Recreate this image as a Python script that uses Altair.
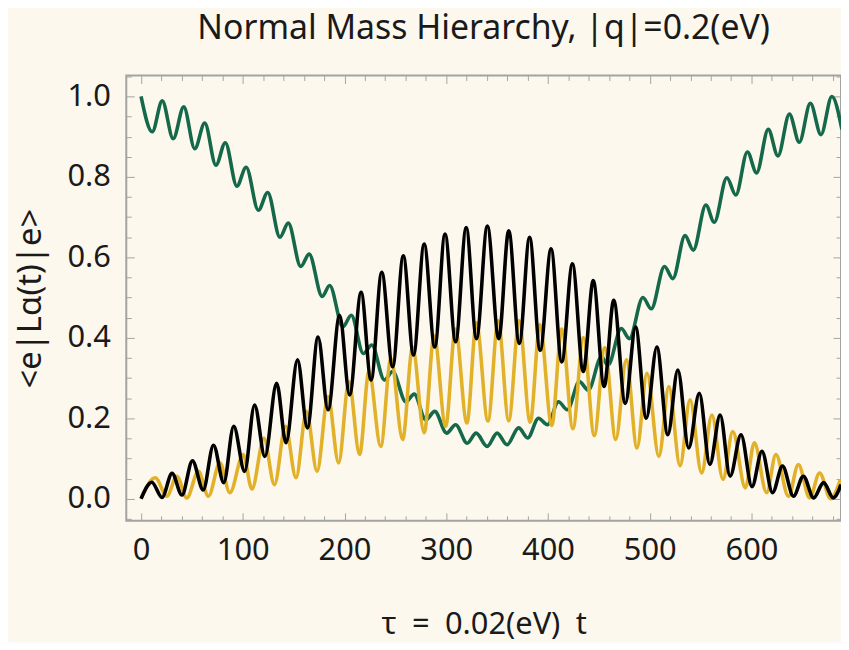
import altair as alt
import pandas as pd

# ---------------- data ----------------
green_t = [0, 11, 20.8, 31.6, 42, 52.8, 62.6, 73.6, 82.8, 94.2, 103.3, 115.3, 124.5, 136.5,
           144.7, 157, 165.2, 178, 185.4, 198.4, 206.6, 218.5, 226.8, 239.2, 247.3, 260.3,
           268.5, 279.9, 288.7, 300.4, 309.2, 320.6, 329.4, 340.2, 350, 359.7, 371.2, 380,
           390.7, 399.5, 410.3, 419, 430.8, 439.6, 452.6, 459, 472, 480, 493.3, 501.5, 514.5,
           522.7, 534.7, 542.8, 555.2, 563.4, 575.8, 584.6, 596, 605, 616.5, 626, 637.3, 647,
           657.9, 668.3, 679, 688.9]
green_v = [1.0, 0.912, 0.989, 0.895, 0.974, 0.870, 0.934, 0.829, 0.885, 0.777, 0.824, 0.717,
           0.761, 0.650, 0.685, 0.577, 0.608, 0.503, 0.530, 0.427, 0.456, 0.361, 0.382, 0.295,
           0.316, 0.241, 0.260, 0.196, 0.217, 0.163, 0.184, 0.138, 0.163, 0.130, 0.163, 0.134,
           0.176, 0.151, 0.200, 0.184, 0.241, 0.221, 0.291, 0.270, 0.353, 0.332, 0.423, 0.398,
           0.500, 0.472, 0.577, 0.547, 0.654, 0.618, 0.730, 0.687, 0.798, 0.755, 0.862, 0.810,
           0.918, 0.852, 0.956, 0.886, 0.983, 0.905, 1.0, 0.918]

black_t = [0, 10.6, 20.6, 30.5, 40.2, 50.5, 61.1, 71.2, 81.3, 91.1, 101.8, 111.6, 121.7, 133.3,
           142.5, 153.8, 163.5, 174, 183.8, 195.2, 205, 216.3, 226.1, 236.6, 247.3, 257.8, 267.8,
           278.3, 288.7, 298.8, 309.2, 319.6, 329.7, 340.4, 351.6, 361.4, 371.8, 381.9, 392.3,
           403, 413.5, 424, 434.7, 444.5, 455.2, 464.6, 476, 486.1, 496.6, 507, 517.8, 527.6,
           538.3, 548.7, 559.1, 569.2, 579, 589.7, 600.5, 610.3, 620.7, 630.5, 641.3, 651,
           661.1, 670.9, 680.4, 688]
black_v = [0.0, 0.041, 0.003, 0.063, 0.009, 0.094, 0.022, 0.133, 0.040, 0.180, 0.068, 0.233,
           0.105, 0.287, 0.139, 0.345, 0.176, 0.402, 0.221, 0.456, 0.258, 0.513, 0.295, 0.563,
           0.328, 0.604, 0.357, 0.633, 0.377, 0.658, 0.390, 0.674, 0.398, 0.678, 0.398, 0.666,
           0.386, 0.650, 0.369, 0.621, 0.340, 0.584, 0.316, 0.542, 0.279, 0.493, 0.237, 0.427,
           0.200, 0.377, 0.159, 0.320, 0.126, 0.262, 0.085, 0.208, 0.056, 0.159, 0.030, 0.118,
           0.015, 0.081, 0.006, 0.056, 0.002, 0.040, 0.002, 0.035]

yellow_t = [0, 14, 25.4, 35.2, 45, 56.4, 66.2, 77.5, 87.3, 100.4, 109, 120.8, 131.1, 142,
            152.3, 162.6, 173, 183.8, 194.2, 204.3, 214.8, 224, 235.6, 245.6, 257.1, 266.9,
            278.3, 288.1, 299.4, 309, 320.3, 329.6, 341, 351, 361.4, 371.6, 382.5, 392, 403.7,
            413.5, 424.5, 434.7, 445.5, 455.8, 466.6, 477, 487.5, 497.3, 509, 518.8, 529.8,
            539.6, 551, 561.1, 572, 581.6, 594, 602.8, 614.9, 624, 636.4, 646.1, 657.2, 667,
            677.7, 687.5]
yellow_v = [0.0, 0.052, 0.006, 0.056, 0.002, 0.068, 0.006, 0.089, 0.015, 0.110, 0.024, 0.150,
            0.035, 0.180, 0.052, 0.217, 0.068, 0.254, 0.089, 0.291, 0.110, 0.316, 0.130, 0.349,
            0.147, 0.377, 0.164, 0.405, 0.180, 0.422, 0.188, 0.437, 0.193, 0.442, 0.194, 0.442,
            0.190, 0.432, 0.182, 0.422, 0.174, 0.400, 0.157, 0.375, 0.147, 0.345, 0.126, 0.312,
            0.105, 0.279, 0.082, 0.246, 0.064, 0.208, 0.048, 0.167, 0.027, 0.139, 0.015, 0.110,
            0.006, 0.085, 0.002, 0.064, 0.0, 0.048]

x_major = [0, 100, 200, 300, 400, 500, 600]
x_minor = [v for v in range(0, 690, 20) if v % 100 != 0]
y_major = [0.0, 0.2, 0.4, 0.6, 0.8, 1.0]
y_minor = [round(0.05 * i, 2) for i in range(-1, 22) if i % 4 != 0]

title_text = "Normal Mass Hierarchy, |q|=0.2(eV)"
x_title = "τ\u2002=\u20020.02(eV)\u2002t"
y_title = "<e|Lα(t)|e>"

# ---------------- styling ----------------
BG = "#fdf8ee"
FRAME = "#a3a3a3"
TXT = "#1a1a1a"
FONT = "Noto Sans"
GREEN = "#15694a"
YELLOW = "#e2b12a"
BLACK = "#000000"

xs = alt.Scale(domain=[-14.5, 688], nice=False, zero=False)
ys = alt.Scale(domain=[-0.055, 1.052], nice=False, zero=False)

green_df = pd.DataFrame({"t": green_t, "v": green_v})
yellow_df = pd.DataFrame({"t": yellow_t, "v": yellow_v})
black_df = pd.DataFrame({"t": black_t, "v": black_v})


def series(df, color, xaxis=None, yaxis=None):
    return alt.Chart(df).mark_line(
        color=color, strokeWidth=3.6, interpolate="monotone", clip=True
    ).encode(
        x=alt.X("t:Q", scale=xs, axis=xaxis),
        y=alt.Y("v:Q", scale=ys, axis=yaxis),
    )


label_x_axis = alt.Axis(
    orient="bottom", values=x_major, format="d", ticks=False, domain=False, grid=False,
    labelFontSize=31, labelPadding=15, labelColor=TXT, labelFont=FONT,
    title=x_title, titleFontSize=31, titleFont=FONT, titleFontWeight="normal",
    titleColor=TXT, titlePadding=44,
)
label_y_axis = alt.Axis(
    orient="left", values=y_major, format=".1f", ticks=False, domain=False, grid=False,
    labelFontSize=31, labelPadding=16, labelColor=TXT, labelFont=FONT,
    title=y_title, titleFontSize=33, titleFont=FONT, titleFontWeight="normal",
    titleColor=TXT, titlePadding=20,
)


def tick_layer(xorient, yorient, xvals, yvals, size):
    xa = alt.Axis(orient=xorient, values=xvals, labels=False, domain=False, grid=False,
                  tickSize=size, offset=-size, tickColor=FRAME, tickWidth=1, title=None)
    ya = alt.Axis(orient=yorient, values=yvals, labels=False, domain=False, grid=False,
                  tickSize=size, offset=-size, tickColor=FRAME, tickWidth=1, title=None)
    return alt.Chart(green_df).mark_point(opacity=0).encode(
        x=alt.X("t:Q", scale=xs, axis=xa),
        y=alt.Y("v:Q", scale=ys, axis=ya),
    )


layers = [
    series(green_df, GREEN, label_x_axis, label_y_axis),
    series(yellow_df, YELLOW),
    series(black_df, BLACK),
    tick_layer("bottom", "left", x_major, y_major, 8),
    tick_layer("bottom", "left", x_minor, y_minor, 5),
    tick_layer("top", "right", x_major, y_major, 8),
    tick_layer("top", "right", x_minor, y_minor, 5),
]

chart = alt.layer(*layers).resolve_axis(x="independent", y="independent").properties(
    width=719,
    height=448,
    padding={"left": 119, "top": 66, "right": 0, "bottom": 120},
    autosize=alt.AutoSizeParams(type="none"),
    background=BG,
    title=alt.TitleParams(title_text, fontSize=34, font=FONT, fontWeight="normal",
                          color=TXT, anchor="middle", offset=29),
).configure_view(stroke=FRAME, strokeWidth=2)

chart.save("out.html", embed_options={"renderer": "svg", "actions": False})
